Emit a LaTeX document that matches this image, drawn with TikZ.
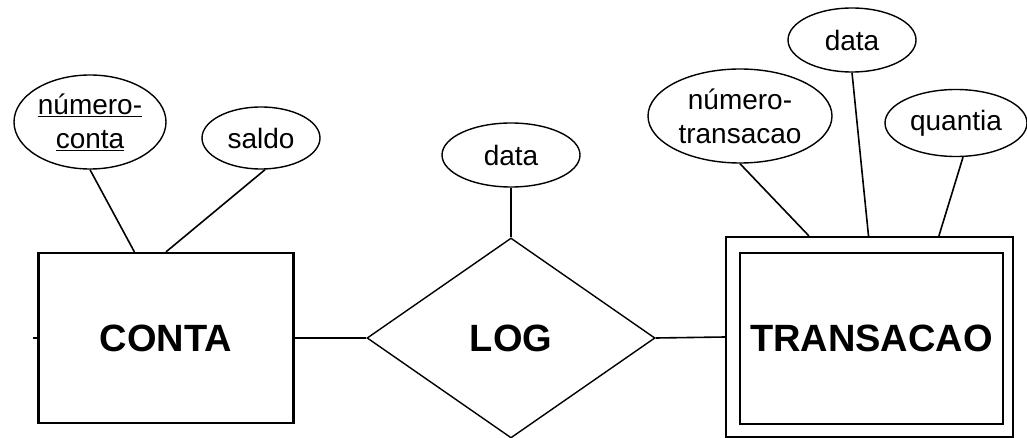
\documentclass[tikz,border=0pt]{standalone}
\usepackage{fontspec}
\setmainfont{Liberation Sans}
\usetikzlibrary{shapes.geometric,calc}
\begin{document}
\begin{tikzpicture}[x=1pt,y=-1pt,
  attr/.style={ellipse,draw,line width=1.4pt,inner sep=0pt,align=center,
    font=\fontsize{28}{34}\selectfont},
  entity/.style={rectangle,draw,line width=2.2pt,inner sep=0pt,
    font=\fontsize{38}{40}\selectfont\bfseries},
  relbox/.style={diamond,draw,line width=1.4pt,inner sep=0pt,aspect=1.44,
    font=\fontsize{38}{40}\selectfont\bfseries},
  link/.style={line width=1.6pt}]
\useasboundingbox (0,0) rectangle (1027,438);
% entities
\node[entity,minimum width=255pt,minimum height=170pt] (conta) at (166,338) {CONTA};
\node[entity,minimum width=287pt,minimum height=200pt] (transout) at (869.5,337) {};
\node[entity,minimum width=263pt,minimum height=171pt] (transacao) at (871.5,338.5) {TRANSACAO};
% relationship
\node[relbox,minimum width=288pt,minimum height=200pt] (log) at (511,338) {LOG};
% attributes
\node[attr,minimum width=152pt,minimum height=94pt] (numconta) at (90,122) {\underline{número-}\\\underline{conta}};
\node[attr,minimum width=118pt,minimum height=62pt] (saldo) at (261,138) {saldo};
\node[attr,minimum width=138pt,minimum height=64pt] (logdata) at (511,155) {data};
\node[attr,minimum width=184pt,minimum height=94pt] (numtrans) at (740,116) {número-\\transacao};
\node[attr,minimum width=128pt,minimum height=64pt] (tdata) at (852,40) {data};
\node[attr,minimum width=142pt,minimum height=67pt] (quantia) at (956,123) {quantia};
\coordinate (stub) at (33,338);
% connectors
\draw[link] (numconta.south) -- ([xshift=97pt]conta.north west);
\draw[link] ([xshift=4pt]saldo.south) -- (conta.north);
\draw[link] (logdata.south) -- (log.north);
\draw[link] (conta.east) -- (log.west);
\draw[link] (log.east) -- (transout.west);
\draw[link] (conta.west) -- (stub);
\draw[link] (numtrans.south) -- ([xshift=84pt]transout.north west);
\draw[link] (tdata.south) -- ([xshift=-1pt]transout.north);
\draw[link] ([xshift=7pt]quantia.south) -- ([xshift=214pt]transout.north west);
\end{tikzpicture}
\end{document}
